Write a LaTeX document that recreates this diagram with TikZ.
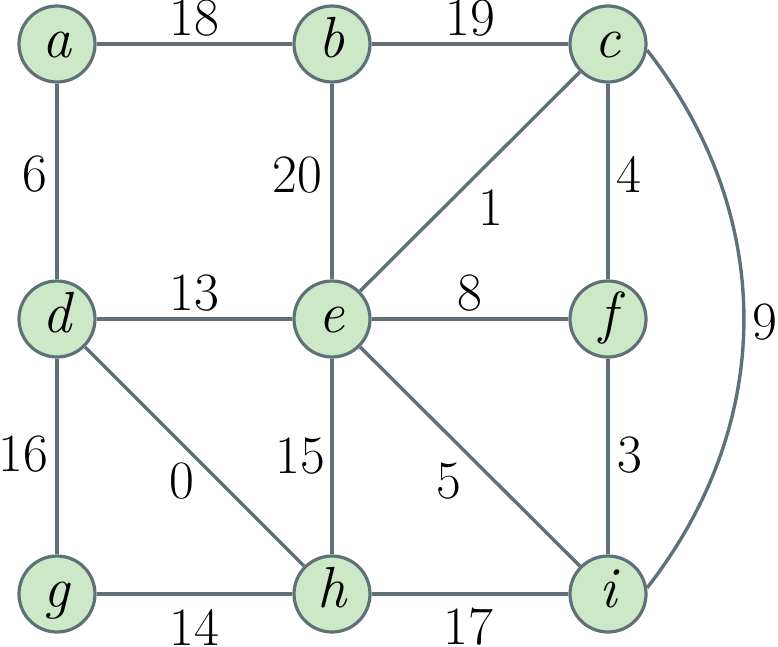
\documentclass[tikz,border=0pt]{standalone}
\definecolor{nodefill}{RGB}{205,232,198}
\definecolor{edgecol}{RGB}{94,113,120}
\begin{document}
\begin{tikzpicture}[x=1pt,y=-1pt,
  vtx/.style={circle,draw=edgecol,fill=nodefill,line width=3.2pt,minimum size=76pt,inner sep=0pt,
    font=\fontsize{58}{62}\selectfont\itshape,text height=26pt,text depth=0pt},
  edge/.style={draw=edgecol,line width=3.4pt},
  lbl/.style={inner sep=0pt,font=\fontsize{54}{60}\selectfont}]
\useasboundingbox (0,0) rectangle (778,646);
\node[vtx] (a) at (57,44) {a};
\node[vtx] (b) at (332,44) {b};
\node[vtx] (c) at (608,44) {c};
\node[vtx] (d) at (57,319) {d};
\node[vtx] (e) at (332,319) {e};
\node[vtx] (f) at (608,319) {f};
\node[vtx] (g) at (57,594) {g};
\node[vtx] (h) at (332,594) {h};
\node[vtx] (i) at (608,594) {i};
\path[edge] (a) -- (b);
\path[edge] (b) -- (c);
\path[edge] (a) -- (d);
\path[edge] (b) -- (e);
\path[edge] (c) -- (e);
\path[edge] (c) -- (f);
\path[edge] (d) -- (e);
\path[edge] (e) -- (f);
\path[edge] (d) -- (g);
\path[edge] (d) -- (h);
\path[edge] (e) -- (h);
\path[edge] (e) -- (i);
\path[edge] (f) -- (i);
\path[edge] (g) -- (h);
\path[edge] (h) -- (i);
\path[edge] (c.-9) to[out=-52,in=52] (i.9);
\node[lbl] (l18) at (194,18.5) {18};
\node[lbl] (l19) at (470,18.5) {19};
\node[lbl] (l6) at (34.5,174) {6};
\node[lbl] (l20) at (297,175) {20};
\node[lbl] (l1) at (491,208) {1};
\node[lbl] (l4) at (629,174) {4};
\node[lbl] (l13) at (194,293) {13};
\node[lbl] (l8) at (470,293) {8};
\node[lbl] (l9) at (765,322) {9};
\node[lbl] (l16) at (23.5,454) {16};
\node[lbl] (l0) at (182,481) {0};
\node[lbl] (l15) at (300,456) {15};
\node[lbl] (l5) at (449,481) {5};
\node[lbl] (l3) at (630,455) {3};
\node[lbl] (l14) at (194,627) {14};
\node[lbl] (l17) at (468,627) {17};
\end{tikzpicture}
\end{document}
